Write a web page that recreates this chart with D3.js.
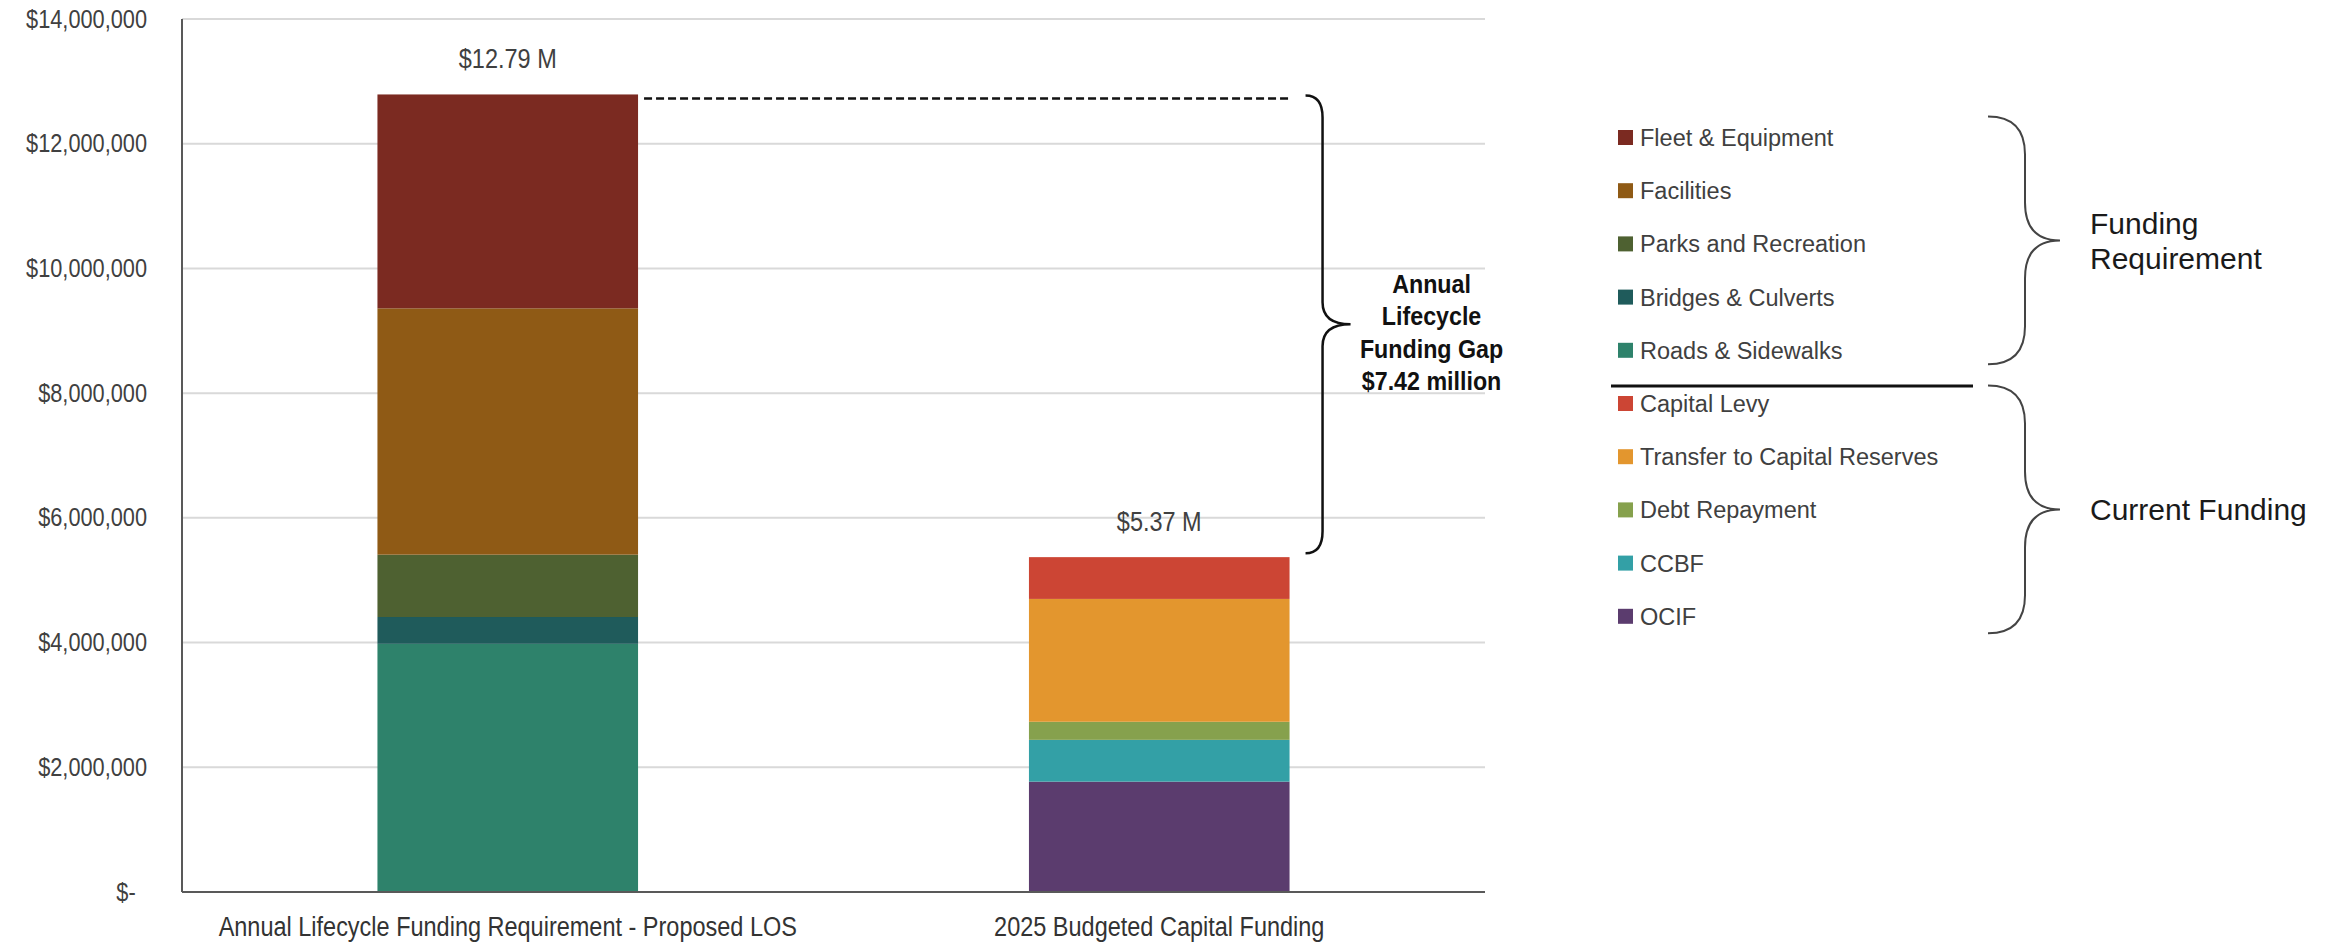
<!DOCTYPE html>
<html>
<head>
<meta charset="utf-8">
<script src="https://cdn.jsdelivr.net/npm/d3@7"></script>
<style>
  body { margin: 0; background: #fff; }
  svg { display: block; font-family: "Liberation Sans", Arial, sans-serif; }
</style>
</head>
<body>
<div id="chart"></div>
<script>
'use strict'

// categories on the x axis
const categories = ['Annual Lifecycle Funding Requirement - Proposed LOS', '2025 Budgeted Capital Funding']

// first bar, bottom to top
const requirementSeries = ['Roads & Sidewalks', 'Bridges & Culverts', 'Parks and Recreation', 'Facilities', 'Fleet & Equipment']
const requirementValues = [3980000, 430000, 1000000, 3950000, 3430000]
const requirementColors = ['#2e826b', '#1f5b5b', '#4e6131', '#8f5a15', '#7b2a21']

// second bar, bottom to top
const fundingSeries = ['OCIF', 'CCBF', 'Debt Repayment', 'Transfer to Capital Reserves', 'Capital Levy']
const fundingValues = [1770000, 670000, 290000, 1970000, 670000]
const fundingColors = ['#5b3c6e', '#33a0a6', '#86a14d', '#e3962e', '#cc4534']

// y axis ticks and the labels drawn over bars / gap
const yTicks = [0, 2000000, 4000000, 6000000, 8000000, 10000000, 12000000, 14000000]
const totalLabels = ['$12.79 M', '$5.37 M']
const gapLabel = ['Annual', 'Lifecycle', 'Funding Gap', '$7.42 million']
const groupLabels = [['Funding', 'Requirement'], ['Current Funding']]

const svgWidth = 2344, svgHeight = 947
const margin = {left: 182, right: 859, top: 19, bottom: 55}

// the chart text is a little condensed in the picture
const squeeze = 0.87

const allSeries = requirementSeries.concat(fundingSeries)
const colorOf = d3.scaleOrdinal().domain(allSeries).range(requirementColors.concat(fundingColors))

// one row per category, zero for the other group's series
const rows = categories.map((c, i) => {
    let row = {cat: c}
    requirementSeries.forEach((s, j) => row[s] = i == 0 ? requirementValues[j] : 0)
    fundingSeries.forEach((s, j) => row[s] = i == 1 ? fundingValues[j] : 0)
    return row
})
const stacked = d3.stack().keys(allSeries)(rows)
const totals = rows.map(r => d3.sum(allSeries, s => r[s]))

const svg = d3.select('#chart').append('svg')
    .attr('width', svgWidth)
    .attr('height', svgHeight)

const x = d3.scaleBand()
    .domain(categories)
    .range([margin.left, svgWidth - margin.right])
    .paddingInner(0.6)
    .paddingOuter(0.3)

const y = d3.scaleLinear()
    .domain([0, 14000000])
    .range([svgHeight - margin.bottom, margin.top])

// gridlines
svg.append('g')
    .selectAll('line')
    .data(yTicks.filter(d => d > 0))
    .join('line')
    .attr('x1', x.range()[0])
    .attr('x2', x.range()[1])
    .attr('y1', d => y(d))
    .attr('y2', d => y(d))
    .attr('stroke', '#d9d9d9')
    .attr('stroke-width', 2)

// y axis labels
const yAxis = svg.append('g')
    .attr('transform', `translate(${margin.left},0)`)
    .call(d3.axisLeft(y).tickValues(yTicks).tickSize(0).tickPadding(35 / squeeze)
        .tickFormat(d => d == 0 ? '$-' : d3.format('$,')(d)))
yAxis.select('.domain').remove()
yAxis.selectAll('text')
    .attr('font-family', '"Liberation Sans", Arial, sans-serif')
    .attr('font-size', 25)
    .attr('fill', '#404040')
    .attr('dx', d => d == 0 ? -13 : 0)
    .attr('transform', `scale(${squeeze},1)`)

// stacked bars
svg.append('g')
    .selectAll('g')
    .data(stacked)
    .join('g')
    .attr('fill', d => colorOf(d.key))
    .selectAll('rect')
    .data(d => d.filter(p => p[1] > p[0]))
    .join('rect')
    .attr('x', d => x(d.data.cat))
    .attr('width', x.bandwidth())
    .attr('y', d => y(d[1]))
    .attr('height', d => y(d[0]) - y(d[1]))

// axis lines
svg.append('line')
    .attr('x1', x.range()[0]).attr('x2', x.range()[0])
    .attr('y1', y(14000000)).attr('y2', y(0))
    .attr('stroke', '#595959').attr('stroke-width', 2)
svg.append('line')
    .attr('x1', x.range()[0]).attr('x2', x.range()[1])
    .attr('y1', y(0)).attr('y2', y(0))
    .attr('stroke', '#595959').attr('stroke-width', 2)

// category labels
svg.append('g')
    .selectAll('text')
    .data(categories)
    .join('text')
    .attr('transform', d => `translate(${x(d) + x.bandwidth() / 2},${y(0) + 44}) scale(${squeeze},1)`)
    .attr('text-anchor', 'middle')
    .attr('font-size', 27)
    .attr('fill', '#333')
    .text(d => d)

// totals over bars
svg.append('g')
    .selectAll('text')
    .data(categories)
    .join('text')
    .attr('transform', (d, i) => `translate(${x(d) + x.bandwidth() / 2},${y(totals[i]) - 26}) scale(${squeeze},1)`)
    .attr('text-anchor', 'middle')
    .attr('font-size', 27)
    .attr('fill', '#404040')
    .text((d, i) => totalLabels[i])

// dashed line from first bar top across
const topY = y(totals[0])
const botY = y(totals[1])
svg.append('line')
    .attr('x1', x(categories[0]) + x.bandwidth() + 6)
    .attr('x2', x(categories[1]) + x.bandwidth())
    .attr('y1', topY + 4).attr('y2', topY + 4)
    .attr('stroke', '#111')
    .attr('stroke-width', 2.5)
    .attr('stroke-dasharray', '8,4')

// curly brace "}" helper
function brace(left, spine, tip, top, bot, r) {
    const mid = (top + bot) / 2
    return `M${left},${top} Q${spine},${top} ${spine},${top + r}` +
        ` L${spine},${mid - r} Q${spine},${mid} ${tip},${mid}` +
        ` Q${spine},${mid} ${spine},${mid + r}` +
        ` L${spine},${bot - r} Q${spine},${bot} ${left},${bot}`
}

const braceLeft = x(categories[1]) + x.bandwidth() + 16
svg.append('path')
    .attr('d', brace(braceLeft, braceLeft + 17, braceLeft + 45, topY + 1, botY - 4, 22))
    .attr('fill', 'none')
    .attr('stroke', '#111')
    .attr('stroke-width', 2.5)

const gapMid = (topY + botY) / 2
svg.append('g')
    .selectAll('text')
    .data(gapLabel)
    .join('text')
    .attr('transform', (d, i) => `translate(${braceLeft + 126},${gapMid - 33 + i * 32.5}) scale(0.93,1)`)
    .attr('text-anchor', 'middle')
    .attr('font-size', 25)
    .attr('font-weight', 'bold')
    .attr('fill', '#111')
    .text(d => d)

// legend
const legendItems = requirementSeries.slice().reverse().concat(fundingSeries.slice().reverse())
const legendX = 1618, legendY0 = 137.5, legendStep = 53.2
const legend = svg.append('g')
    .selectAll('g')
    .data(legendItems)
    .join('g')
    .attr('transform', (d, i) => `translate(${legendX},${legendY0 + i * legendStep})`)
legend.append('rect')
    .attr('x', 0).attr('y', -7.5)
    .attr('width', 15).attr('height', 15)
    .attr('fill', d => colorOf(d))
legend.append('text')
    .attr('x', 22)
    .attr('dy', '0.36em')
    .attr('font-size', 23.5)
    .attr('fill', '#404040')
    .text(d => d)

// separator between the two legend groups
const sepY = legendY0 + 4.5 * legendStep + 9
svg.append('line')
    .attr('x1', 1611).attr('x2', 1973)
    .attr('y1', sepY).attr('y2', sepY)
    .attr('stroke', '#111')
    .attr('stroke-width', 3)

// group braces and labels
const groups = [
    {top: legendY0 - 21, bot: legendY0 + 4 * legendStep + 14},
    {top: legendY0 + 5 * legendStep - 18, bot: legendY0 + 9 * legendStep + 17}
]
groups.forEach((g, gi) => {
    svg.append('path')
        .attr('d', brace(1988, 2025, 2060, g.top, g.bot, 38))
        .attr('fill', 'none')
        .attr('stroke', '#444')
        .attr('stroke-width', 2)

    const lines = groupLabels[gi]
    const mid = (g.top + g.bot) / 2
    svg.append('g')
        .selectAll('text')
        .data(lines)
        .join('text')
        .attr('x', 2090)
        .attr('y', (d, i) => mid + 11 + (i - (lines.length - 1) / 2) * 35)
        .attr('font-size', 30)
        .attr('fill', '#1a1a1a')
        .text(d => d)
})
</script>
</body>
</html>
